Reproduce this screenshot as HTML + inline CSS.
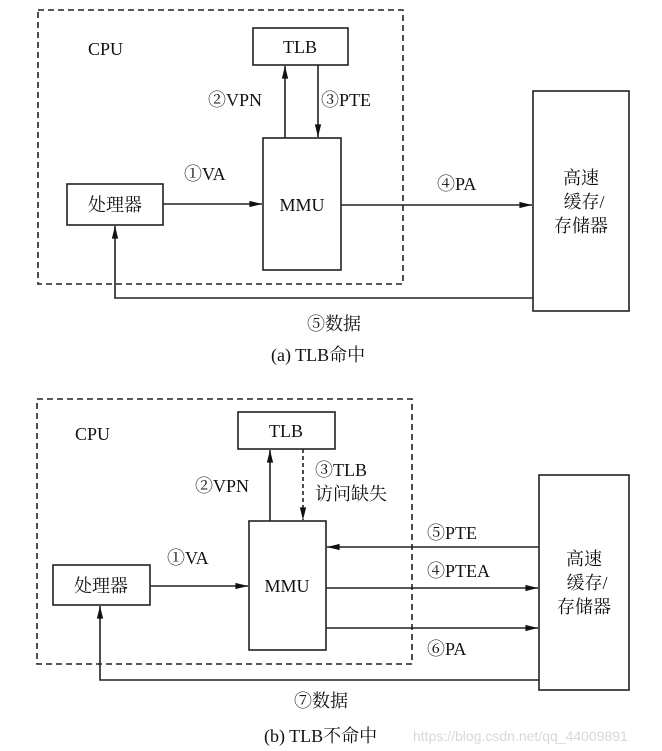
<!DOCTYPE html>
<html><head><meta charset="utf-8"><style>
html,body{margin:0;padding:0;background:#fff}
svg{display:block}
text{font-family:"Liberation Serif","Noto Serif CJK SC",serif;font-size:18px;fill:#111}
</style></head><body>
<svg width="662" height="751" viewBox="0 0 662 751">
<defs><marker id="a" viewBox="0 0 14 10" refX="14" refY="5" markerWidth="14" markerHeight="9" markerUnits="userSpaceOnUse" orient="auto"><path d="M0,1.5 L14,5 L0,8.5 z" fill="#111"/></marker></defs>
<g stroke="#222" stroke-width="1.6" fill="none">
<rect x="38" y="10" width="365" height="274" stroke-dasharray="6,4"/>
<rect x="253" y="28" width="95" height="37"/>
<rect x="263" y="138" width="78" height="132"/>
<rect x="67" y="184" width="96" height="41"/>
<rect x="533" y="91" width="96" height="220"/>
<line x1="163" y1="204" x2="262" y2="204" marker-end="url(#a)"/>
<line x1="341" y1="205" x2="532" y2="205" marker-end="url(#a)"/>
<line x1="285" y1="138" x2="285" y2="66" marker-end="url(#a)"/>
<line x1="318" y1="65" x2="318" y2="137" marker-end="url(#a)"/>
<polyline points="533,298 115,298 115,226" marker-end="url(#a)"/>

<rect x="37" y="399" width="375" height="265" stroke-dasharray="6,4"/>
<rect x="238" y="412" width="97" height="37"/>
<rect x="249" y="521" width="77" height="129"/>
<rect x="53" y="565" width="97" height="40"/>
<rect x="539" y="475" width="90" height="215"/>
<line x1="539" y1="547" x2="327" y2="547" marker-end="url(#a)"/>
<line x1="326" y1="588" x2="538" y2="588" marker-end="url(#a)"/>
<line x1="326" y1="628" x2="538" y2="628" marker-end="url(#a)"/>
<line x1="150" y1="586" x2="248" y2="586" marker-end="url(#a)"/>
<line x1="270" y1="521" x2="270" y2="450" marker-end="url(#a)"/>
<line x1="303" y1="449" x2="303" y2="520" stroke-dasharray="4,3" marker-end="url(#a)"/>
<polyline points="539,680 100,680 100,606" marker-end="url(#a)"/>
</g>
<text x="88" y="55">CPU</text>
<text x="300" y="53" text-anchor="middle">TLB</text>
<text x="302" y="211" text-anchor="middle">MMU</text>
<text x="115" y="211" text-anchor="middle">处理器</text>
<text x="581" y="184" text-anchor="middle">高速</text>
<text x="584" y="208" text-anchor="middle">缓存/</text>
<text x="581" y="232" text-anchor="middle">存储器</text>
<text x="184" y="180">①VA</text>
<text x="437" y="190">④PA</text>
<text x="208" y="106">②VPN</text>
<text x="321" y="106">③PTE</text>
<text x="307" y="330">⑤数据</text>
<text x="271" y="361">(a) TLB命中</text>

<text x="75" y="440">CPU</text>
<text x="286" y="437" text-anchor="middle">TLB</text>
<text x="287" y="592" text-anchor="middle">MMU</text>
<text x="101" y="592" text-anchor="middle">处理器</text>
<text x="584" y="565" text-anchor="middle">高速</text>
<text x="587" y="589" text-anchor="middle">缓存/</text>
<text x="584" y="613" text-anchor="middle">存储器</text>
<text x="167" y="564">①VA</text>
<text x="195" y="492">②VPN</text>
<text x="315" y="476">③TLB</text>
<text x="315" y="500">访问缺失</text>
<text x="427" y="539">⑤PTE</text>
<text x="427" y="577">④PTEA</text>
<text x="427" y="655">⑥PA</text>
<text x="294" y="707">⑦数据</text>
<text x="264" y="742">(b) TLB不命中</text>
<text x="413" y="741" style="font-family:'Liberation Sans',sans-serif;font-size:14px;fill:#d8d8d8">https://blog.csdn.net/qq_44009891</text>
</svg>
</body></html>
